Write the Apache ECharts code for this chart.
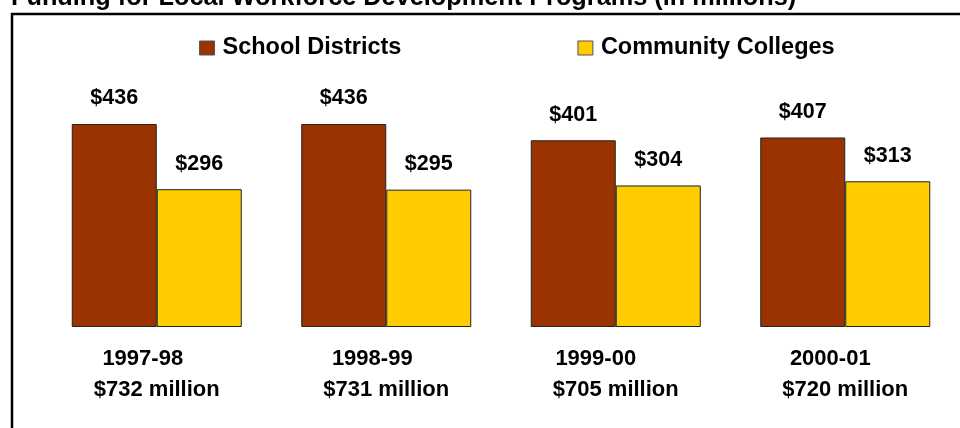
<!DOCTYPE html>
<html>
<head>
<meta charset="utf-8">
<title>Funding for Local Workforce Development Programs</title>
<script src="https://cdn.jsdelivr.net/npm/echarts@6/dist/echarts.min.js"></script>
<style>
  html, body { margin: 0; padding: 0; background: #fff; }
  #chart { width: 960px; height: 428px; }
</style>
</head>
<body>
<div id="chart"></div>
<script>
// Fiscal years and yearly totals shown under each pair of bars
const years = ['1997-98', '1998-99', '1999-00', '2000-01'];
const totals = ['$732 million', '$731 million', '$705 million', '$720 million'];

// Funding in millions of dollars
const schoolDistricts = [436, 436, 401, 407];
const communityColleges = [296, 295, 304, 313];

// Leftward nudge of each year caption relative to its total line
const yearNudge = [14, 14, 20, 15];

const FONT = 'Liberation Sans, Arial, sans-serif';

const chart = echarts.init(document.getElementById('chart'), null, { renderer: 'canvas' });

const valueLabel = {
  show: true,
  position: 'top',
  distance: 14.5,
  formatter: p => '$' + p.value,
  fontFamily: FONT,
  fontWeight: 'bold',
  fontSize: 21.5,
  color: '#000'
};

const rich = { b: { fontFamily: FONT, fontWeight: 'bold', fontSize: 22, color: '#000', lineHeight: 31.5 } };
yearNudge.forEach((n, i) => {
  rich['a' + i] = { fontFamily: FONT, fontWeight: 'bold', fontSize: 22, color: '#000', lineHeight: 31.5, padding: [0, n * 2, 0, 0] };
});

chart.setOption({
  animation: false,
  backgroundColor: '#fff',
  title: {
    text: 'Funding for Local Workforce Development Programs (in millions)',
    left: 11,
    top: -14,
    padding: 0,
    textStyle: { fontFamily: FONT, fontWeight: 'bold', fontSize: 25.3, color: '#000' }
  },
  graphic: [{
    type: 'rect',
    shape: { x: 12, y: 14, width: 1000, height: 500 },
    style: { fill: 'none', stroke: '#000', lineWidth: 2.5 },
    silent: true
  }],
  legend: {
    left: 199,
    top: 36,
    padding: 0,
    itemWidth: 15,
    itemHeight: 14,
    itemGap: 176,
    icon: 'rect',
    itemStyle: { borderColor: '#555', borderWidth: 1 },
    textStyle: { fontFamily: FONT, fontWeight: 'bold', fontSize: 23.5, color: '#000', padding: [0, 0, 0, 3] },
    data: ['School Districts', 'Community Colleges']
  },
  grid: { left: 42, width: 921, top: 94.2, bottom: 101, containLabel: false },
  xAxis: {
    type: 'category',
    data: years,
    axisLine: { show: false },
    axisTick: { show: false },
    axisLabel: {
      margin: 16,
      interval: 0,
      formatter: (v, i) => '{a' + i + '|' + v + '}\n{b|' + totals[i] + '}',
      rich: rich
    }
  },
  yAxis: {
    type: 'value',
    min: 0,
    max: 500,
    show: false,
    splitLine: { show: false }
  },
  series: [
    {
      name: 'School Districts',
      type: 'bar',
      data: schoolDistricts,
      barWidth: 85,
      barGap: '0%',
      itemStyle: { color: '#993300', borderColor: '#222', borderWidth: 1 },
      label: valueLabel
    },
    {
      name: 'Community Colleges',
      type: 'bar',
      data: communityColleges,
      barWidth: 85,
      barGap: '0%',
      itemStyle: { color: '#FFCC00', borderColor: '#222', borderWidth: 1 },
      label: valueLabel
    }
  ]
});
</script>
</body>
</html>
